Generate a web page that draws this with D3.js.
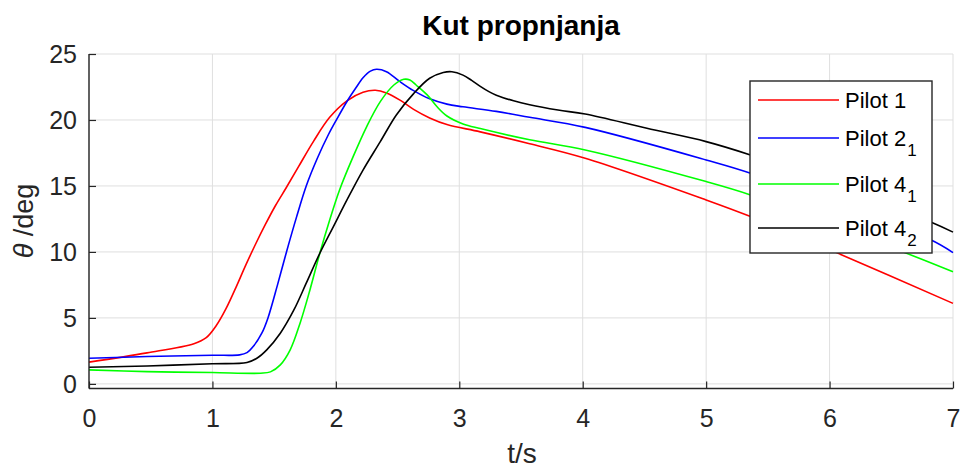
<!DOCTYPE html>
<html><head><meta charset="utf-8">
<script src="https://cdn.jsdelivr.net/npm/d3@7"></script>
<style>
html,body{margin:0;padding:0;background:#fff;}
svg text{font-family:"Liberation Sans",Arial,Helvetica,sans-serif;}
</style></head>
<body><svg id="c" width="962" height="468"></svg>
<script>
const title = "Kut propnjanja";
const xLabel = "t/s";
const xTicks = [0,1,2,3,4,5,6,7];
const yTicks = [0,5,10,15,20,25];

const p1T = [0,0.47,0.85,0.95,1.03,1.11,1.19,1.27,1.35,1.43,1.51,1.6,1.7,1.82,1.95,2.09,2.22,2.32,2.41,2.52,2.63,2.76,2.9,3.17,3.57,4.02,5.0,5.36,6.1,7.0];
const p1V = [1.65,2.35,3.05,3.5,4.4,5.7,7.3,9.0,10.6,12.1,13.5,14.9,16.5,18.4,20.2,21.45,22.1,22.25,22.05,21.5,20.8,20.15,19.65,19.1,18.2,17.1,13.94,12.68,9.77,6.1];

const p2T = [0,0.47,1.0,1.22,1.28,1.33,1.4,1.45,1.53,1.6,1.68,1.76,1.85,1.94,2.01,2.09,2.16,2.22,2.28,2.33,2.41,2.52,2.63,2.76,2.9,3.03,3.3,3.57,4.02,5.0,5.36,6.0,6.81,7.0];
const p2V = [1.94,2.07,2.17,2.2,2.37,2.83,3.84,5.0,7.6,10.0,12.6,15.0,17.1,18.9,20.1,21.4,22.4,23.2,23.7,23.84,23.66,22.9,22.22,21.6,21.2,21.0,20.65,20.2,19.44,16.97,15.96,13.7,10.96,9.95];

const p41T = [0,0.47,1.0,1.39,1.47,1.55,1.63,1.71,1.79,1.87,1.95,2.03,2.14,2.25,2.36,2.47,2.55,2.6,2.65,2.74,2.82,2.9,3.03,3.17,3.57,4.02,5.0,5.36,6.0,6.68,7.0];
const p41V = [1.06,0.93,0.86,0.81,0.91,1.44,2.58,4.6,7.12,9.9,12.42,14.7,17.22,19.5,21.39,22.65,23.08,23.03,22.65,21.9,21.0,20.3,19.7,19.35,18.5,17.73,15.33,14.32,12.1,9.7,8.5];

const p42T = [0,0.47,1.0,1.28,1.36,1.44,1.55,1.66,1.76,1.87,1.98,2.09,2.22,2.36,2.49,2.63,2.76,2.87,2.94,3.03,3.1,3.17,3.24,3.3,3.44,3.57,3.8,4.02,4.52,5.0,5.36,6.0,6.81,7.0];
const p42V = [1.26,1.36,1.52,1.62,1.94,2.58,3.84,5.6,7.63,9.9,11.92,13.94,16.2,18.36,20.38,22.0,23.16,23.6,23.66,23.4,23.0,22.55,22.15,21.88,21.45,21.15,20.75,20.45,19.37,18.36,17.35,15.3,12.3,11.5];

const seriesNames = ["Pilot 1","Pilot 2","Pilot 4","Pilot 4"];
const seriesSubs = ["","1","1","2"];
const seriesColors = ["#ff0000","#0000ff","#00ff00","#000000"];
const seriesT = [p1T,p2T,p41T,p42T];
const seriesV = [p1V,p2V,p41V,p42V];

const svg = d3.select("#c");
const L=89,R=953,T=54,B=388.5;
const x = d3.scaleLinear().domain([0,7]).range([L,R]);
const y = d3.scaleLinear().domain([-0.35,25]).range([B,T]);

// grid
const g = svg.append("g");
g.selectAll(".gx").data(xTicks).join("line")
  .attr("x1",d=>x(d)).attr("x2",d=>x(d)).attr("y1",T).attr("y2",B)
  .attr("stroke","#dfdfdf").attr("stroke-width",1);
g.selectAll(".gy").data(yTicks).join("line")
  .attr("x1",L).attr("x2",R).attr("y1",d=>y(d)).attr("y2",d=>y(d))
  .attr("stroke","#dfdfdf").attr("stroke-width",1);

// lines
const line = d3.line().x(d=>x(d[0])).y(d=>y(d[1])).curve(d3.curveCatmullRom.alpha(0.5));
seriesT.forEach((ts,i)=>{
  const pts = ts.map((t,j)=>[t,seriesV[i][j]]);
  svg.append("path").attr("d",line(pts)).attr("fill","none")
    .attr("stroke",seriesColors[i]).attr("stroke-width",1.6);
});

// axes
const ax = svg.append("g").attr("transform",`translate(0,${B})`)
  .call(d3.axisBottom(x).tickValues(xTicks).tickSize(-7).tickPadding(0).tickFormat(d3.format("d")));
const ay = svg.append("g").attr("transform",`translate(${L},0)`)
  .call(d3.axisLeft(y).tickValues(yTicks).tickSize(-7).tickPadding(0).tickFormat(d3.format("d")));
[ax,ay].forEach(a=>{
  a.select(".domain").attr("stroke","#262626").attr("stroke-width",1.4);
  a.selectAll(".tick line").attr("stroke","#262626").attr("stroke-width",1.2);
  a.selectAll(".tick text").attr("fill","#262626").attr("font-size",25)
    .attr("font-family","Liberation Sans, Arial, sans-serif");
});
ax.select(".domain").attr("d",`M${L},0H${R}`);
ay.select(".domain").attr("d",`M0,${B}V${T}`);
ax.selectAll(".tick text").attr("y",38.5).attr("dy",0);
ay.selectAll(".tick text").attr("x",-12).attr("dy","0.35em");

// title & labels
svg.append("text").attr("x",521).attr("y",35).attr("text-anchor","middle")
  .attr("font-size",28).attr("font-weight","bold").attr("fill","#000").text(title);
svg.append("text").attr("x",522).attr("y",463).attr("text-anchor","middle")
  .attr("font-size",28).attr("fill","#262626").text(xLabel);
const yl = svg.append("text").attr("transform","translate(33,221) rotate(-90)")
  .attr("text-anchor","middle").attr("font-size",27).attr("fill","#262626");
yl.append("tspan").attr("font-style","italic").text("θ");
yl.append("tspan").text(" /deg");

// legend
const lg = svg.append("g");
lg.append("rect").attr("x",750).attr("y",81).attr("width",182).attr("height",172)
  .attr("fill","#fff").attr("stroke","#262626").attr("stroke-width",1.4);
const rowY = [100,138,184,228];
seriesNames.forEach((n,i)=>{
  lg.append("line").attr("x1",758).attr("x2",839).attr("y1",rowY[i]).attr("y2",rowY[i])
    .attr("stroke",seriesColors[i]).attr("stroke-width",1.6);
  const t = lg.append("text").attr("x",845).attr("y",rowY[i]+8).attr("font-size",22).attr("fill","#000");
  t.append("tspan").text(n);
  if(seriesSubs[i]) t.append("tspan").attr("dy",10).attr("dx",1).attr("font-size",17).text(seriesSubs[i]);
});
</script></body></html>
